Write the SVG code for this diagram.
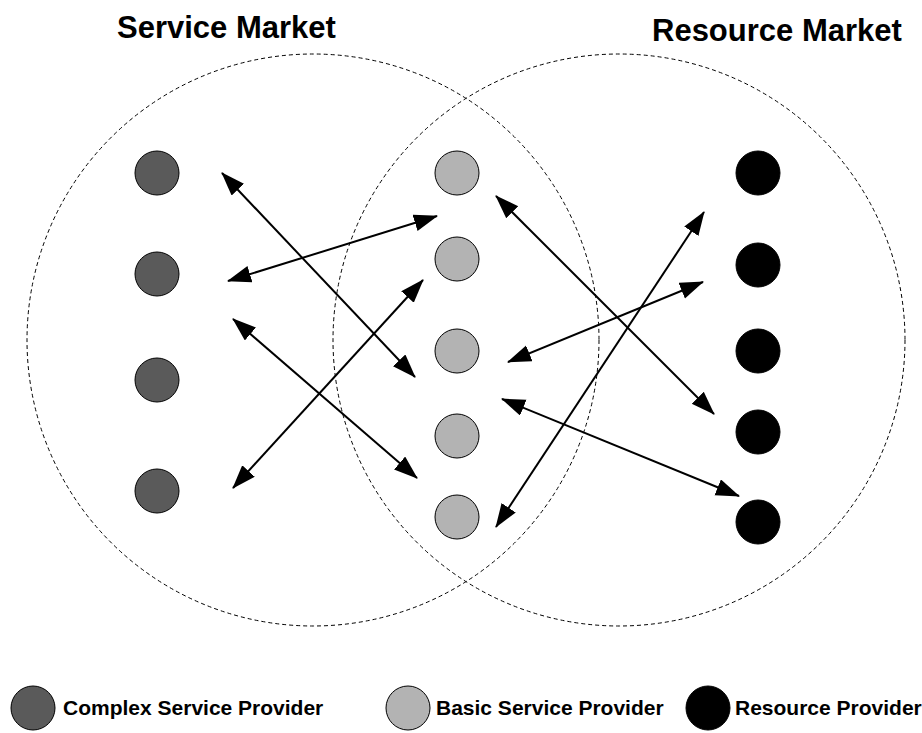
<svg xmlns="http://www.w3.org/2000/svg" width="922" height="733" viewBox="0 0 922 733">
<style>
.market{fill:none;stroke:#000;stroke-width:1;stroke-dasharray:4,3}
.complex{fill:#5a5a5a;stroke:#000;stroke-width:1}
.basic{fill:#b3b3b3;stroke:#000;stroke-width:1}
.resource{fill:#000;stroke:#000;stroke-width:1}
.title{font-family:"Liberation Sans",Arial,sans-serif;font-weight:bold;font-size:31px;fill:#000}
.legend{font-family:"Liberation Sans",Arial,sans-serif;font-weight:bold;font-size:21px;fill:#000}
.conn line{stroke:#000;stroke-width:2;marker-start:url(#ah);marker-end:url(#ah)}
</style>
<defs>
<marker id="ah" markerUnits="userSpaceOnUse" markerWidth="24" markerHeight="18" refX="23" refY="8.5" orient="auto-start-reverse" viewBox="0 0 24 18">
<path d="M0,0 L24,8.5 L0,17 z" fill="#000"/>
</marker>
</defs>
<rect width="922" height="733" fill="#fff"/>
<g id="service-market">
<circle class="market" cx="313" cy="340" r="286"/>
<text class="title" x="117" y="38">Service Market</text>
</g>
<g id="resource-market">
<circle class="market" cx="619" cy="340" r="286"/>
<text class="title" x="652" y="41">Resource Market</text>
</g>
<g id="complex-1"><circle class="complex" cx="157" cy="173" r="22"/></g>
<g id="complex-2"><circle class="complex" cx="157" cy="274" r="22"/></g>
<g id="complex-3"><circle class="complex" cx="157" cy="380" r="22"/></g>
<g id="complex-4"><circle class="complex" cx="157" cy="491" r="22"/></g>
<g id="basic-1"><circle class="basic" cx="457" cy="173" r="22"/></g>
<g id="basic-2"><circle class="basic" cx="457" cy="259" r="22"/></g>
<g id="basic-3"><circle class="basic" cx="457" cy="351" r="22"/></g>
<g id="basic-4"><circle class="basic" cx="457" cy="436" r="22"/></g>
<g id="basic-5"><circle class="basic" cx="457" cy="517" r="22"/></g>
<g id="resource-1"><circle class="resource" cx="758" cy="173" r="22"/></g>
<g id="resource-2"><circle class="resource" cx="758" cy="265" r="22"/></g>
<g id="resource-3"><circle class="resource" cx="758" cy="351" r="22"/></g>
<g id="resource-4"><circle class="resource" cx="758" cy="432" r="22"/></g>
<g id="resource-5"><circle class="resource" cx="758" cy="522" r="22"/></g>
<g id="connectors" class="conn">
<line x1="222" y1="173" x2="415" y2="377"/>
<line x1="228" y1="281" x2="437" y2="216"/>
<line x1="233" y1="319" x2="417" y2="478"/>
<line x1="233" y1="488" x2="423" y2="280"/>
<line x1="496" y1="196" x2="714" y2="414"/>
<line x1="508" y1="362" x2="703" y2="282"/>
<line x1="496" y1="527" x2="704" y2="212"/>
<line x1="502" y1="399" x2="739" y2="496"/>
</g>
<g id="legend">
<g id="legend-complex"><circle class="complex" cx="33" cy="708" r="22"/><text class="legend" x="63" y="715">Complex Service Provider</text></g>
<g id="legend-basic"><circle class="basic" cx="408" cy="708" r="22"/><text class="legend" x="436" y="715">Basic Service Provider</text></g>
<g id="legend-resource"><circle class="resource" cx="708" cy="708" r="22"/><text class="legend" x="735" y="715">Resource Provider</text></g>
</g>
</svg>
